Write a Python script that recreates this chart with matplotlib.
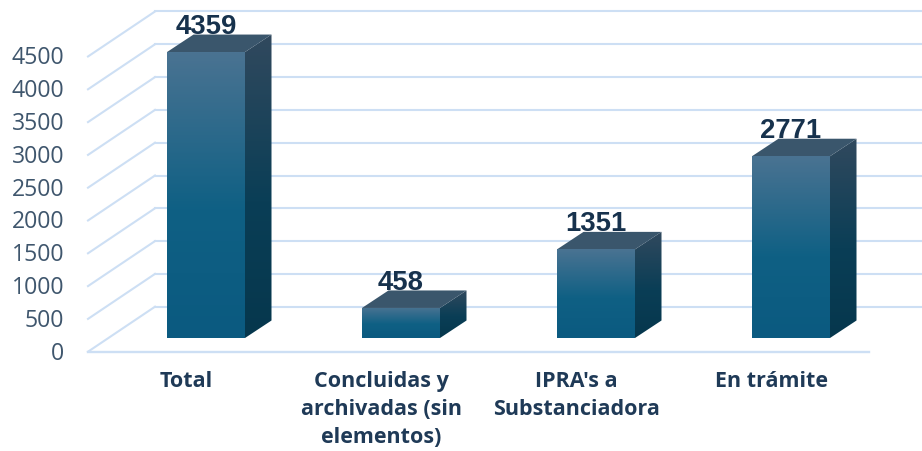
import matplotlib
matplotlib.use("Agg")
import matplotlib.pyplot as plt
from matplotlib.patches import Polygon
from matplotlib.colors import LinearSegmentedColormap
import numpy as np

# datos
categorias = ["Total", "Concluidas y\narchivadas (sin\nelementos)", "IPRA's a\nSubstanciadora", "En trámite"]
valores = [4359, 458, 1351, 2771]
ticks = [0, 500, 1000, 1500, 2000, 2500, 3000, 3500, 4000, 4500]

# escala del dibujo
px_x = 195.0      # pixeles por categoria
px_y = 0.0656     # pixeles por unidad
ancho = 78 / px_x
prof_x = 26.5 / px_x
prof_y = 17.5 / px_y

plt.rcParams["font.family"] = ["Open Sans", "DejaVu Sans"]

fig = plt.figure(figsize=(9.22, 4.51), dpi=100)
ax = fig.add_axes([0, 0, 1, 1])
xlim = (-206 / px_x, (922 - 206) / px_x)
ylim = ((338 - 451) / px_y, 338 / px_y)

color_rejilla = "#cddff4"
y_frente = -13.7 / px_y
y_fondo = 31.3 / px_y
x_izq = -118 / px_x
x_izq_fondo = -51 / px_x

# rejilla: pared del fondo y diagonales
for t in ticks:
    ax.plot([x_izq, x_izq_fondo], [t + y_frente, t + y_fondo], color=color_rejilla, lw=1.5, zorder=1)
    ax.plot([x_izq_fondo, xlim[1]], [t + y_fondo, t + y_fondo], color=color_rejilla, lw=1.5, zorder=1)
    ax.text(-142 / px_x, t + y_frente - 2 / px_y, str(t), ha="right", va="center", fontsize=16.6, color="#3f566d")
ax.plot([x_izq, 663 / px_x], [y_frente, y_frente], color=color_rejilla, lw=1.7, zorder=1)

cmap_frente = LinearSegmentedColormap.from_list("frente", [(0, "#4a7392"), (0.55, "#0f6084"), (1, "#0b5a80")])
cmap_lado = LinearSegmentedColormap.from_list("lado", [(0, "#31495e"), (0.55, "#0a3e56"), (1, "#06374d")])
grad = np.linspace(0, 1, 256).reshape(-1, 1)


def cara(puntos, cmap, base, alto, z):
    # cara de la barra con degradado vertical
    xs = [p[0] for p in puntos]
    im = ax.imshow(grad, cmap=cmap, extent=(min(xs), max(xs), base, alto), aspect="auto",
                   origin="upper", interpolation="bilinear", zorder=z)
    pol = Polygon(puntos, closed=True, transform=ax.transData, fc="none", ec="none")
    ax.add_patch(pol)
    im.set_clip_path(pol)


for i, v in enumerate(valores):
    x0 = i - ancho / 2
    x1 = i + ancho / 2
    cara([(x1, 0), (x1 + prof_x, prof_y), (x1 + prof_x, v + prof_y), (x1, v)], cmap_lado, 0, v + prof_y, 3)
    ax.add_patch(Polygon([(x0, v), (x1, v), (x1 + prof_x, v + prof_y), (x0 + prof_x, v + prof_y)],
                         closed=True, fc="#3a566c", ec="none", zorder=3))
    cara([(x0, 0), (x1, 0), (x1, v), (x0, v)], cmap_frente, 0, v, 4)
    ax.text(i, v + 25 / px_y, str(v), ha="center", va="center", fontsize=19.8, fontweight="bold",
            family=["Liberation Sans", "DejaVu Sans"], color="#17324d", zorder=5)
    ax.text(i - 20 / px_x, -33 / px_y, categorias[i], ha="center", va="top", fontsize=15.5,
            fontweight="bold", color="#1f3a57", linespacing=1.44, zorder=5)

ax.set_xlim(xlim)
ax.set_ylim(ylim)
ax.axis("off")

fig.savefig("out.png", dpi=100, facecolor="white")
